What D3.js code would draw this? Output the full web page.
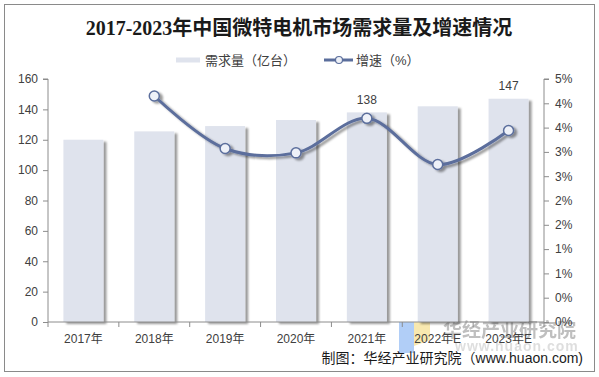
<!DOCTYPE html>
<html><head><meta charset="utf-8">
<script src="https://cdn.jsdelivr.net/npm/d3@7"></script>
<style>
html,body{margin:0;padding:0;background:#fff;}
svg{display:block;font-family:"Liberation Sans",Arial,"Noto Sans CJK SC",sans-serif;}
</style></head>
<body>
<svg id="c" width="599" height="377"></svg>
<script>
const categories = ["2017年","2018年","2019年","2020年","2021年","2022年E","2023年E"];
const demand = [120, 125.5, 129, 133, 138, 142, 147];
const growth = [null, 4.65, 3.57, 3.48, 4.19, 3.24, 3.94];
const leftTicks = [0,20,40,60,80,100,120,140,160];
const rightTickValues = [0,0.5,1,1.5,2,2.5,3,3.5,4,4.5,5];
const rightTickLabels = ["0%","0%","1%","1%","2%","2%","3%","3%","4%","4%","5%"];
const labeledBars = ["2021年","2023年E"];
const title = "2017-2023年中国微特电机市场需求量及增速情况";
const legendBar = "需求量（亿台）";
const legendLine = "增速（%）";
const source = "制图：华经产业研究院（www.huaon.com)";

const svg = d3.select("#c");
const L = 48, R = 544, T = 79, B = 322;
const barColor = "#dfe3ed", lineColor = "#5b6e9c", axisColor = "#8c8c8c", textColor = "#404040";

const defs = svg.append("defs");
const f = defs.append("filter").attr("id","sh").attr("x","-20%").attr("y","-20%").attr("width","150%").attr("height","150%");
f.append("feDropShadow").attr("dx",3).attr("dy",2).attr("stdDeviation",1.3).attr("flood-color","#000").attr("flood-opacity",0.4);

svg.append("rect").attr("x",4.5).attr("y",4.5).attr("width",590).attr("height",367)
  .attr("fill","#fff").attr("stroke","#8a8a8a").attr("stroke-width",1);

svg.append("text").attr("x",299).attr("y",35).attr("text-anchor","middle")
  .style("font-family",'"Liberation Serif","Noto Sans CJK SC",serif').style("font-weight","bold")
  .style("font-size","20px").attr("fill","#1a1a1a").text(title);

const x = d3.scaleBand().domain(categories).range([L,R]).padding(0);
const y = d3.scaleLinear().domain([0,160]).range([B,T]);
const y2 = d3.scaleLinear().domain([0,5]).range([B,T]);
const bw = x.bandwidth()*0.565;

// legend
svg.append("rect").attr("x",176).attr("y",57.5).attr("width",24).attr("height",5).attr("fill",barColor);
svg.append("text").attr("x",205).attr("y",60).attr("dy","0.35em").style("font-size","13px").attr("fill",textColor).text(legendBar);
svg.append("line").attr("x1",324).attr("x2",353).attr("y1",60).attr("y2",60).attr("stroke",lineColor).attr("stroke-width",3);
svg.append("circle").attr("cx",339).attr("cy",60).attr("r",3.5).attr("fill","#eef1f7").attr("stroke",lineColor).attr("stroke-width",1.2);
svg.append("text").attr("x",356).attr("y",60).attr("dy","0.35em").style("font-size","13px").attr("fill",textColor).text(legendLine);

// watermark
const wm = svg.append("g");
wm.append("rect").attr("x",399).attr("y",322).attr("width",15).attr("height",31).attr("fill","#a9c9f6").attr("opacity",0.9);
wm.append("path").attr("d","M414,322 L430,322 L430,340 L414,346 Z").attr("fill","#f7e6a6").attr("opacity",0.9);
wm.append("text").attr("x",443).attr("y",330).attr("dy","0.35em").style("font-size","19px").style("font-weight","bold")
  .style("font-family",'"Noto Sans CJK SC",sans-serif').attr("fill","#b4b4b4").attr("opacity",0.85).text("华经产业研究院");
wm.append("text").attr("x",455).attr("y",346).attr("dy","0.35em").style("font-size","14px").style("font-weight","bold")
  .attr("fill","#d4d4d4").attr("opacity",0.75).attr("letter-spacing","1px").text("www.huaon.com");

// bars
svg.append("g").attr("filter","url(#sh)").selectAll("rect").data(categories).join("rect")
  .attr("x",d=>x(d)+(x.bandwidth()-bw)/2).attr("width",bw)
  .attr("y",(d,i)=>y(demand[i])).attr("height",(d,i)=>B-y(demand[i])).attr("fill",barColor);

// data labels
svg.append("g").selectAll("text").data(categories.map((c,i)=>({c,v:demand[i]})).filter(d=>labeledBars.includes(d.c))).join("text")
  .attr("x",d=>x(d.c)+x.bandwidth()/2).attr("y",d=>y(d.v)-13).attr("dy","0.35em").attr("text-anchor","middle")
  .style("font-size","12px").attr("fill",textColor).text(d=>d.v);

// axes
const gl = svg.append("g").attr("transform",`translate(${L},0)`)
  .call(d3.axisLeft(y).tickValues(leftTicks).tickSize(5).tickPadding(5));
const gr = svg.append("g").attr("transform",`translate(${R},0)`)
  .call(d3.axisRight(y2).tickValues(rightTickValues).tickFormat((d,i)=>rightTickLabels[i]).tickSize(5).tickPadding(6));
const gb = svg.append("g").attr("transform",`translate(0,${B})`)
  .call(d3.axisBottom(x).tickSize(0).tickPadding(12));
// category boundary ticks
svg.append("g").selectAll("line").data(d3.range(categories.length+1)).join("line")
  .attr("x1",i=>L+i*x.step()).attr("x2",i=>L+i*x.step()).attr("y1",B).attr("y2",B+5)
  .attr("stroke",axisColor);
[gl,gr,gb].forEach(g=>{
  g.selectAll(".domain").attr("stroke",axisColor);
  g.selectAll(".tick line").attr("stroke",axisColor);
  g.selectAll("text").style("font-size","12px").attr("fill",textColor)
   .style("font-family",'"Liberation Sans",Arial,"Noto Sans CJK SC",sans-serif');
});
gl.select(".domain").attr("d",`M-5,${T}H0V${B}`);
gr.select(".domain").attr("d",`M5,${T}H0V${B}`);
gb.select(".domain").attr("d",`M${L},0H${R}`);

// line
const pts = categories.map((c,i)=>({c,v:growth[i]})).filter(d=>d.v!=null);
const line = d3.line().x(d=>x(d.c)+x.bandwidth()/2).y(d=>y2(d.v)).curve(d3.curveCatmullRom.alpha(0.5));
const lg = svg.append("g").attr("filter","url(#sh)");
lg.append("path").datum(pts).attr("d",line).attr("fill","none").attr("stroke",lineColor).attr("stroke-width",3);
lg.selectAll("circle").data(pts).join("circle")
  .attr("cx",d=>x(d.c)+x.bandwidth()/2).attr("cy",d=>y2(d.v)).attr("r",5)
  .attr("fill","#eef1f8").attr("stroke",lineColor).attr("stroke-width",1.5);

// source
svg.append("text").attr("x",583).attr("y",358).attr("dy","0.35em").attr("text-anchor","end")
  .style("font-size","14px").attr("fill","#1a1a1a").text(source);
</script>
</body></html>
